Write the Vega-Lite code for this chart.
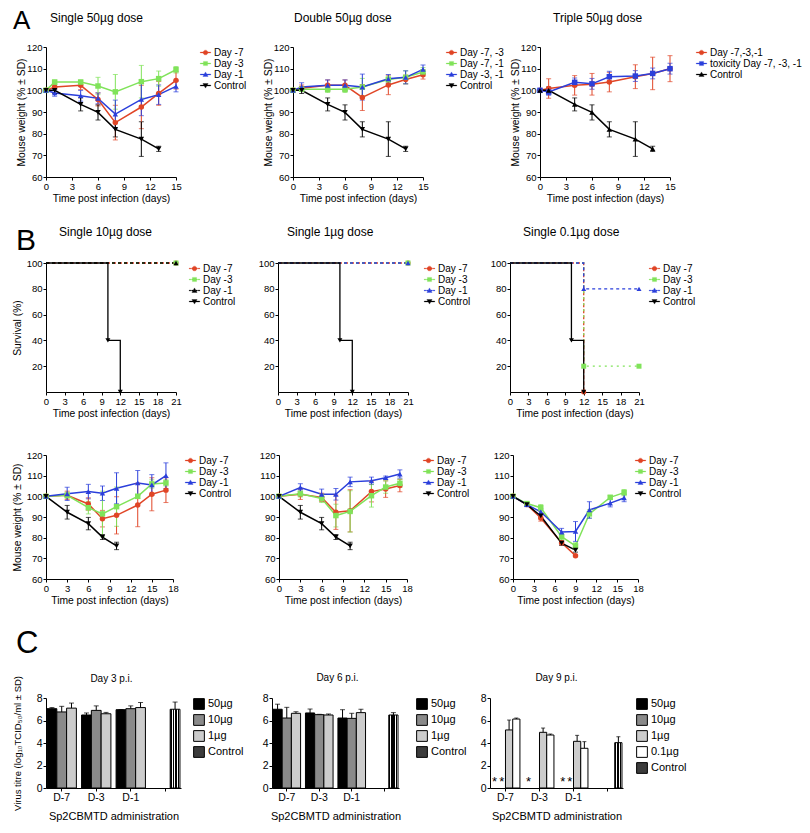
{
"$schema": "https://vega.github.io/schema/vega-lite/v6.json",
"background": "white",
"padding": {"left": 11, "top": 8, "right": 2, "bottom": 5},
"config": {
 "font": "Liberation Sans",
 "view": {"stroke": null},
 "axis": {"grid": false, "domainColor": "#000", "tickColor": "#000", "labelColor": "#000", "titleColor": "#000", "labelFontSize": 9.5, "titleFontSize": 10.3, "titleFontWeight": "normal", "tickSize": 3, "labelPadding": 1, "labelOverlap": false, "labelFlush": false, "labelBound": false, "titlePadding": 3},
 "axisX": {"labelAngle": 0},
 "legend": {"labelFontSize": 10, "rowPadding": 0, "labelOffset": 3, "padding": 0, "symbolSize": 110, "labelColor": "#000", "labelLimit": 300},
 "title": {"fontSize": 12, "fontWeight": "normal", "color": "#000", "anchor": "start", "frame": "group"}
},
"datasets": {
 "a1": [
  {"s":"Day -7","day":0,"w":100,"sd":0},{"s":"Day -7","day":1,"w":101.5,"sd":1},{"s":"Day -7","day":4,"w":102.3,"sd":2},{"s":"Day -7","day":6,"w":95.8,"sd":3},{"s":"Day -7","day":8,"w":85.1,"sd":8},{"s":"Day -7","day":11,"w":92.3,"sd":10},{"s":"Day -7","day":13,"w":98.6,"sd":5.5},{"s":"Day -7","day":15,"w":104.6,"sd":4},
  {"s":"Day -3","day":0,"w":100,"sd":0},{"s":"Day -3","day":1,"w":103.8,"sd":1},{"s":"Day -3","day":4,"w":103.8,"sd":1},{"s":"Day -3","day":6,"w":102,"sd":4},{"s":"Day -3","day":8,"w":99.3,"sd":8},{"s":"Day -3","day":11,"w":104,"sd":7.5},{"s":"Day -3","day":13,"w":105.4,"sd":3.5},{"s":"Day -3","day":15,"w":109.5,"sd":1.5},
  {"s":"Day -1","day":0,"w":100,"sd":0.5},{"s":"Day -1","day":1,"w":98.8,"sd":1.5},{"s":"Day -1","day":4,"w":97.5,"sd":2.5},{"s":"Day -1","day":6,"w":96.3,"sd":2.5},{"s":"Day -1","day":8,"w":89,"sd":6.5},{"s":"Day -1","day":11,"w":95.8,"sd":7.5},{"s":"Day -1","day":13,"w":98,"sd":4.5},{"s":"Day -1","day":15,"w":101.8,"sd":2.5},
  {"s":"Control","day":0,"w":100,"sd":0},{"s":"Control","day":1,"w":100,"sd":1.5},{"s":"Control","day":4,"w":93.5,"sd":3},{"s":"Control","day":6,"w":89.8,"sd":3.5},{"s":"Control","day":8,"w":82,"sd":3.5},{"s":"Control","day":11,"w":77.5,"sd":8},{"s":"Control","day":13,"w":73,"sd":1.2}
 ],
 "a2": [
  {"s":"Day -7, -3","day":0,"w":100,"sd":0},{"s":"Day -7, -3","day":1,"w":101,"sd":1.5},{"s":"Day -7, -3","day":4,"w":102.3,"sd":2.5},{"s":"Day -7, -3","day":6,"w":102.3,"sd":2.5},{"s":"Day -7, -3","day":8,"w":96.7,"sd":6},{"s":"Day -7, -3","day":11,"w":102.5,"sd":4.5},{"s":"Day -7, -3","day":13,"w":105,"sd":2},{"s":"Day -7, -3","day":15,"w":107.2,"sd":2},
  {"s":"Day -7, -1","day":0,"w":100,"sd":0},{"s":"Day -7, -1","day":1,"w":100.5,"sd":1},{"s":"Day -7, -1","day":4,"w":100.5,"sd":1.5},{"s":"Day -7, -1","day":6,"w":100.5,"sd":1.5},{"s":"Day -7, -1","day":8,"w":101.5,"sd":4},{"s":"Day -7, -1","day":11,"w":105,"sd":1.5},{"s":"Day -7, -1","day":13,"w":106,"sd":3},{"s":"Day -7, -1","day":15,"w":108.5,"sd":2},
  {"s":"Day -3, -1","day":0,"w":100,"sd":0.5},{"s":"Day -3, -1","day":1,"w":101.5,"sd":2},{"s":"Day -3, -1","day":4,"w":102.3,"sd":2.5},{"s":"Day -3, -1","day":6,"w":102.3,"sd":2.5},{"s":"Day -3, -1","day":8,"w":101.5,"sd":6},{"s":"Day -3, -1","day":11,"w":105.3,"sd":2},{"s":"Day -3, -1","day":13,"w":106,"sd":3},{"s":"Day -3, -1","day":15,"w":109.7,"sd":2},
  {"s":"Control","day":0,"w":100,"sd":0},{"s":"Control","day":1,"w":100,"sd":1.5},{"s":"Control","day":4,"w":93.5,"sd":3},{"s":"Control","day":6,"w":89.8,"sd":3.5},{"s":"Control","day":8,"w":82,"sd":3.5},{"s":"Control","day":11,"w":77.5,"sd":8},{"s":"Control","day":13,"w":73,"sd":1.2}
 ],
 "a3": [
  {"s":"Day -7,-3,-1","day":0,"w":100,"sd":0},{"s":"Day -7,-3,-1","day":1,"w":100.8,"sd":4.5},{"s":"Day -7,-3,-1","day":4,"w":102.3,"sd":4.5},{"s":"Day -7,-3,-1","day":6,"w":102.8,"sd":5},{"s":"Day -7,-3,-1","day":8,"w":103.8,"sd":4.5},{"s":"Day -7,-3,-1","day":11,"w":106.3,"sd":5.5},{"s":"Day -7,-3,-1","day":13,"w":107.8,"sd":7.5},{"s":"Day -7,-3,-1","day":15,"w":110,"sd":6},
  {"s":"toxicity Day -7, -3, -1","day":0,"w":100,"sd":0},{"s":"toxicity Day -7, -3, -1","day":1,"w":99.2,"sd":1.5},{"s":"toxicity Day -7, -3, -1","day":4,"w":103.7,"sd":2},{"s":"toxicity Day -7, -3, -1","day":6,"w":103,"sd":2.5},{"s":"toxicity Day -7, -3, -1","day":8,"w":106.3,"sd":2.5},{"s":"toxicity Day -7, -3, -1","day":11,"w":106.6,"sd":2.5},{"s":"toxicity Day -7, -3, -1","day":13,"w":107.8,"sd":2.5},{"s":"toxicity Day -7, -3, -1","day":15,"w":110,"sd":2.5},
  {"s":"Control","day":0,"w":100,"sd":0},{"s":"Control","day":1,"w":100,"sd":1.5},{"s":"Control","day":4,"w":93.5,"sd":3},{"s":"Control","day":6,"w":89.8,"sd":3.5},{"s":"Control","day":8,"w":82,"sd":3.5},{"s":"Control","day":11,"w":77.5,"sd":8},{"s":"Control","day":13,"w":73,"sd":1.2}
 ],
 "s1": [
  {"s":"Day -7","day":0,"p":100},{"s":"Day -7","day":21,"p":100},
  {"s":"Day -3","day":0,"p":100},{"s":"Day -3","day":21,"p":100},
  {"s":"Day -1","day":0,"p":100},{"s":"Day -1","day":21,"p":100},
  {"s":"Control","day":0,"p":100},{"s":"Control","day":10,"p":40},{"s":"Control","day":12,"p":0}
 ],
 "s2": [
  {"s":"Day -7","day":0,"p":100},{"s":"Day -7","day":21,"p":100},
  {"s":"Day -3","day":0,"p":100},{"s":"Day -3","day":21,"p":100},
  {"s":"Day -1","day":0,"p":100},{"s":"Day -1","day":21,"p":100},
  {"s":"Control","day":0,"p":100},{"s":"Control","day":10,"p":40},{"s":"Control","day":12,"p":0}
 ],
 "s3": [
  {"s":"Day -7","day":0,"p":100},{"s":"Day -7","day":12,"p":0},
  {"s":"Day -3","day":0,"p":100},{"s":"Day -3","day":12,"p":20},{"s":"Day -3","day":21,"p":20},
  {"s":"Day -1","day":0,"p":100},{"s":"Day -1","day":12,"p":80},{"s":"Day -1","day":21,"p":80},
  {"s":"Control","day":0,"p":100},{"s":"Control","day":10,"p":40},{"s":"Control","day":12,"p":0}
 ],
 "w1": [
  {"s":"Day -7","day":0,"w":100,"sd":0},{"s":"Day -7","day":3,"w":100.5,"sd":2},{"s":"Day -7","day":6,"w":96.3,"sd":3},{"s":"Day -7","day":8,"w":89.2,"sd":4},{"s":"Day -7","day":10,"w":90.8,"sd":9},{"s":"Day -7","day":13,"w":95.8,"sd":10.5},{"s":"Day -7","day":15,"w":101,"sd":8},{"s":"Day -7","day":17,"w":103,"sd":6},
  {"s":"Day -3","day":0,"w":100,"sd":0},{"s":"Day -3","day":3,"w":100.5,"sd":1.5},{"s":"Day -3","day":6,"w":94.5,"sd":3},{"s":"Day -3","day":8,"w":91.5,"sd":11},{"s":"Day -3","day":10,"w":95,"sd":9.5},{"s":"Day -3","day":13,"w":100,"sd":1},{"s":"Day -3","day":15,"w":106,"sd":2},{"s":"Day -3","day":17,"w":106.5,"sd":1.5},
  {"s":"Day -1","day":0,"w":100,"sd":0},{"s":"Day -1","day":3,"w":101.2,"sd":3.2},{"s":"Day -1","day":6,"w":102.3,"sd":3.5},{"s":"Day -1","day":8,"w":101.5,"sd":3.5},{"s":"Day -1","day":10,"w":103.9,"sd":7.5},{"s":"Day -1","day":13,"w":106.5,"sd":6},{"s":"Day -1","day":15,"w":105.5,"sd":5},{"s":"Day -1","day":17,"w":110,"sd":6.2},
  {"s":"Control","day":0,"w":100,"sd":0},{"s":"Control","day":3,"w":92.3,"sd":3.3},{"s":"Control","day":6,"w":86.8,"sd":3},{"s":"Control","day":8,"w":80.3,"sd":1.2},{"s":"Control","day":10,"w":76,"sd":1.8}
 ],
 "w2": [
  {"s":"Day -7","day":0,"w":100,"sd":0},{"s":"Day -7","day":3,"w":101,"sd":2.5},{"s":"Day -7","day":6,"w":99.5,"sd":2},{"s":"Day -7","day":8,"w":92.3,"sd":8.3},{"s":"Day -7","day":10,"w":93,"sd":10.2},{"s":"Day -7","day":13,"w":102.3,"sd":5},{"s":"Day -7","day":15,"w":103.5,"sd":4},{"s":"Day -7","day":17,"w":105.2,"sd":3},
  {"s":"Day -3","day":0,"w":100,"sd":0},{"s":"Day -3","day":3,"w":101.2,"sd":1.5},{"s":"Day -3","day":6,"w":99,"sd":2},{"s":"Day -3","day":8,"w":90.7,"sd":5.5},{"s":"Day -3","day":10,"w":92.7,"sd":10},{"s":"Day -3","day":13,"w":100.3,"sd":5.5},{"s":"Day -3","day":15,"w":104.5,"sd":3},{"s":"Day -3","day":17,"w":106.3,"sd":2},
  {"s":"Day -1","day":0,"w":100,"sd":0},{"s":"Day -1","day":3,"w":104.3,"sd":1.8},{"s":"Day -1","day":6,"w":101,"sd":2.5},{"s":"Day -1","day":8,"w":101,"sd":2.8},{"s":"Day -1","day":10,"w":107,"sd":2.3},{"s":"Day -1","day":13,"w":107.5,"sd":1.8},{"s":"Day -1","day":15,"w":109,"sd":0.8},{"s":"Day -1","day":17,"w":110.8,"sd":2},
  {"s":"Control","day":0,"w":100,"sd":0},{"s":"Control","day":3,"w":92.3,"sd":3.3},{"s":"Control","day":6,"w":86.8,"sd":3},{"s":"Control","day":8,"w":80.3,"sd":1.2},{"s":"Control","day":10,"w":76,"sd":1.8}
 ],
 "w3": [
  {"s":"Day -7","day":0,"w":100,"sd":0},{"s":"Day -7","day":2,"w":96,"sd":0.5},{"s":"Day -7","day":4,"w":89.5,"sd":1.5},{"s":"Day -7","day":7,"w":77.5,"sd":1},{"s":"Day -7","day":9,"w":71.3,"sd":0.5},
  {"s":"Day -3","day":0,"w":100,"sd":0},{"s":"Day -3","day":2,"w":96.5,"sd":1},{"s":"Day -3","day":4,"w":94.5,"sd":1.5},{"s":"Day -3","day":7,"w":80.5,"sd":1.5},{"s":"Day -3","day":9,"w":76,"sd":1.5},{"s":"Day -3","day":11,"w":91.5,"sd":2},{"s":"Day -3","day":14,"w":99.5,"sd":1},{"s":"Day -3","day":16,"w":101.8,"sd":1.5},
  {"s":"Day -1","day":0,"w":100,"sd":0},{"s":"Day -1","day":2,"w":96,"sd":1},{"s":"Day -1","day":4,"w":92.5,"sd":1.5},{"s":"Day -1","day":7,"w":82.7,"sd":1.8},{"s":"Day -1","day":9,"w":83,"sd":4.8},{"s":"Day -1","day":11,"w":93.4,"sd":4},{"s":"Day -1","day":14,"w":96.7,"sd":1.8},{"s":"Day -1","day":16,"w":99.2,"sd":1.8},
  {"s":"Control","day":0,"w":100,"sd":0},{"s":"Control","day":2,"w":96,"sd":0.5},{"s":"Control","day":4,"w":90.5,"sd":1},{"s":"Control","day":7,"w":77.3,"sd":1},{"s":"Control","day":9,"w":74,"sd":1}
 ],
 "c1": [
  {"g":"D-7","dose":"50µg","v":7.05,"hi":7.15},{"g":"D-7","dose":"10µg","v":6.76,"hi":7.26},{"g":"D-7","dose":"1µg","v":7.1,"hi":7.55},
  {"g":"D-3","dose":"50µg","v":6.49,"hi":6.67},{"g":"D-3","dose":"10µg","v":6.9,"hi":7.3},{"g":"D-3","dose":"1µg","v":6.6,"hi":6.72},
  {"g":"D-1","dose":"50µg","v":6.96,"hi":6.98},{"g":"D-1","dose":"10µg","v":7.05,"hi":7.3},{"g":"D-1","dose":"1µg","v":7.15,"hi":7.6},
  {"g":"Control","dose":"Control","v":7.0,"hi":7.64}
 ],
 "c2": [
  {"g":"D-7","dose":"50µg","v":7.0,"hi":7.45},{"g":"D-7","dose":"10µg","v":6.22,"hi":7.17},{"g":"D-7","dose":"1µg","v":6.64,"hi":6.78},
  {"g":"D-3","dose":"50µg","v":6.67,"hi":7.02},{"g":"D-3","dose":"10µg","v":6.52,"hi":6.55},{"g":"D-3","dose":"1µg","v":6.49,"hi":6.58},
  {"g":"D-1","dose":"50µg","v":6.22,"hi":6.96},{"g":"D-1","dose":"10µg","v":6.19,"hi":6.64},{"g":"D-1","dose":"1µg","v":6.7,"hi":7.0},
  {"g":"Control","dose":"Control","v":6.49,"hi":6.7}
 ],
 "c3": [
  {"g":"D-7","dose":"50µg","v":0,"hi":0,"nd":true},{"g":"D-7","dose":"10µg","v":0,"hi":0,"nd":true},
  {"g":"D-7","dose":"1µg","v":5.16,"hi":6.04,"nd":false},{"g":"D-7","dose":"0.1µg","v":6.13,"hi":6.22,"nd":false},
  {"g":"D-3","dose":"50µg","v":0,"hi":0,"nd":true},
  {"g":"D-3","dose":"1µg","v":4.95,"hi":5.33,"nd":false},{"g":"D-3","dose":"0.1µg","v":4.71,"hi":4.8,"nd":false},
  {"g":"D-1","dose":"50µg","v":0,"hi":0,"nd":true},{"g":"D-1","dose":"10µg","v":0,"hi":0,"nd":true},
  {"g":"D-1","dose":"1µg","v":4.15,"hi":4.68,"nd":false},{"g":"D-1","dose":"0.1µg","v":3.53,"hi":4.12,"nd":false},
  {"g":"Control","dose":"Control","v":4.03,"hi":4.56,"nd":false}
 ]
},
"concat": [
 {
  "title": {"text": "A", "fontSize": 26, "anchor": "start", "frame": "bounds", "offset": 0, "dy": 22, "dx": -3},
  "bounds": "flush",
  "spacing": 117,
  "resolve": {"scale": {"color": "independent", "shape": "independent"}, "legend": {"color": "independent", "shape": "independent"}},
  "hconcat": [
   {
    "width": 130, "height": 130,
    "title": {"text": "Single 50µg dose", "dx": 4, "offset": 17},
    "data": {"name": "a1"},
    "encoding": {
     "x": {"field": "day", "type": "quantitative", "scale": {"domain": [0, 15], "nice": false}, "axis": {"values": [0,3,6,9,12,15], "title": "Time post infection (days)"}},
     "y": {"field": "w", "type": "quantitative", "scale": {"domain": [60, 120], "nice": false, "zero": false}, "axis": {"values": [60,70,80,90,100,110,120], "title": "Mouse weight (% ± SD)", "titleX": -20}},
     "color": {"field": "s", "type": "nominal", "scale": {"domain": ["Day -7","Day -3","Day -1","Control"], "range": ["#e04526","#80e35a","#2b3fdb","#000000"]},
      "legend": {"title": null, "orient": "right", "offset": 21, "encode": {"symbols": {"update": {
       "shape": {"signal": "datum.value=='Day -7' ? 'M-1,-0.08H1V0.08H-1ZM-0.45,0A0.45,0.45 0 1,1 0.45,0A0.45,0.45 0 1,1 -0.45,0Z' : datum.value=='Day -3' ? 'M-1,-0.08H1V0.08H-1ZM-0.4,-0.4H0.4V0.4H-0.4Z' : datum.value=='Day -1' ? 'M-1,-0.08H1V0.08H-1ZM0,-0.5L0.5,0.38H-0.5Z' : 'M-1,-0.08H1V0.08H-1ZM0,0.5L-0.5,-0.38H0.5Z'"},
       "strokeWidth": {"value": 0.3}}}}}}
    },
    "layer": [
     {"mark": {"type": "line", "strokeWidth": 1.5}, "encoding": {}},
     {"mark": {"type": "errorbar", "ticks": true}, "encoding": {"yError": {"field": "sd"}}},
     {"mark": {"type": "point", "filled": true, "size": 30, "opacity": 1}, "encoding": {"shape": {"field": "s", "type": "nominal", "scale": {"domain": ["Control","Day -1","Day -3","Day -7"], "range": ["triangle-down","triangle-up","square","circle"]}, "legend": null}}}
    ]
   },
   {
    "width": 130, "height": 130,
    "title": {"text": "Double 50µg dose", "dx": 1, "offset": 17},
    "data": {"name": "a2"},
    "encoding": {
     "x": {"field": "day", "type": "quantitative", "scale": {"domain": [0, 15], "nice": false}, "axis": {"values": [0,3,6,9,12,15], "title": "Time post infection (days)"}},
     "y": {"field": "w", "type": "quantitative", "scale": {"domain": [60, 120], "nice": false, "zero": false}, "axis": {"values": [60,70,80,90,100,110,120], "title": "Mouse weight (% ± SD)", "titleX": -20}},
     "color": {"field": "s", "type": "nominal", "scale": {"domain": ["Day -7, -3","Day -7, -1","Day -3, -1","Control"], "range": ["#e04526","#80e35a","#2b3fdb","#000000"]},
      "legend": {"title": null, "orient": "right", "offset": 20, "encode": {"symbols": {"update": {
       "shape": {"signal": "datum.value=='Day -7, -3' ? 'M-1,-0.08H1V0.08H-1ZM-0.45,0A0.45,0.45 0 1,1 0.45,0A0.45,0.45 0 1,1 -0.45,0Z' : datum.value=='Day -7, -1' ? 'M-1,-0.08H1V0.08H-1ZM-0.4,-0.4H0.4V0.4H-0.4Z' : datum.value=='Day -3, -1' ? 'M-1,-0.08H1V0.08H-1ZM0,-0.5L0.5,0.38H-0.5Z' : 'M-1,-0.08H1V0.08H-1ZM0,0.5L-0.5,-0.38H0.5Z'"},
       "strokeWidth": {"value": 0.3}}}}}}
    },
    "layer": [
     {"mark": {"type": "line", "strokeWidth": 1.5}, "encoding": {}},
     {"mark": {"type": "errorbar", "ticks": true}, "encoding": {"yError": {"field": "sd"}}},
     {"mark": {"type": "point", "filled": true, "size": 30, "opacity": 1}, "encoding": {"shape": {"field": "s", "type": "nominal", "scale": {"domain": ["Control","Day -3, -1","Day -7, -1","Day -7, -3"], "range": ["triangle-down","triangle-up","square","circle"]}, "legend": null}}}
    ]
   },
   {
    "width": 130, "height": 130,
    "title": {"text": "Triple 50µg dose", "dx": 13, "offset": 17},
    "data": {"name": "a3"},
    "encoding": {
     "x": {"field": "day", "type": "quantitative", "scale": {"domain": [0, 15], "nice": false}, "axis": {"values": [0,3,6,9,12,15], "title": "Time post infection (days)"}},
     "y": {"field": "w", "type": "quantitative", "scale": {"domain": [60, 120], "nice": false, "zero": false}, "axis": {"values": [60,70,80,90,100,110,120], "title": "Mouse weight (% ± SD)", "titleX": -20}},
     "color": {"field": "s", "type": "nominal", "scale": {"domain": ["Day -7,-3,-1","toxicity Day -7, -3, -1","Control"], "range": ["#e04526","#2b3fdb","#000000"]},
      "legend": {"title": null, "orient": "right", "offset": 23, "encode": {"symbols": {"update": {
       "shape": {"signal": "datum.value=='Day -7,-3,-1' ? 'M-1,-0.08H1V0.08H-1ZM-0.45,0A0.45,0.45 0 1,1 0.45,0A0.45,0.45 0 1,1 -0.45,0Z' : datum.value=='Control' ? 'M-1,-0.08H1V0.08H-1ZM0,-0.5L0.5,0.38H-0.5Z' : 'M-1,-0.08H1V0.08H-1ZM-0.4,-0.4H0.4V0.4H-0.4Z'"},
       "strokeWidth": {"value": 0.3}}}}}}
    },
    "layer": [
     {"mark": {"type": "line", "strokeWidth": 1.5}, "encoding": {}},
     {"mark": {"type": "errorbar", "ticks": true}, "encoding": {"yError": {"field": "sd"}}},
     {"mark": {"type": "point", "filled": true, "size": 30, "opacity": 1}, "encoding": {"shape": {"field": "s", "type": "nominal", "scale": {"domain": ["Control","toxicity Day -7, -3, -1","Day -7,-3,-1"], "range": ["triangle-up","square","circle"]}, "legend": null}}}
    ]
   }
  ]
 },
 {
  "title": {"text": "B", "fontSize": 30, "anchor": "start", "frame": "bounds", "offset": 0, "dy": 30, "dx": 4},
  "bounds": "flush",
  "spacing": 102,
  "resolve": {"scale": {"color": "independent", "shape": "independent", "strokeDash": "independent"}, "legend": {"color": "independent", "shape": "independent", "strokeDash": "independent"}},
  "hconcat": [
   {
    "width": 130, "height": 129,
    "title": {"text": "Single 10µg dose", "dx": 13, "offset": 19},
    "data": {"name": "s1"},
    "encoding": {
     "x": {"field": "day", "type": "quantitative", "scale": {"domain": [0, 21], "nice": false}, "axis": {"values": [0,3,6,9,12,15,18,21], "title": "Time post infection (days)"}},
     "y": {"field": "p", "type": "quantitative", "scale": {"domain": [0, 100], "nice": false}, "axis": {"values": [20,40,60,80,100], "title": "Survival (%)", "titleX": -24}},
     "color": {"field": "s", "type": "nominal", "scale": {"domain": ["Day -7","Day -3","Day -1","Control"], "range": ["#e04526","#80e35a","#000000","#000000"]},
      "legend": {"title": null, "orient": "right", "offset": 10, "encode": {"symbols": {"update": {
       "shape": {"signal": "datum.value=='Day -7' ? 'M-1,-0.08H-0.72V0.08H-1ZM-0.56,-0.08H-0.3V0.08H-0.56ZM0.3,-0.08H0.56V0.08H0.3ZM0.72,-0.08H1V0.08H0.72ZM-0.45,0A0.45,0.45 0 1,1 0.45,0A0.45,0.45 0 1,1 -0.45,0Z' : datum.value=='Day -3' ? 'M-1,-0.08H-0.72V0.08H-1ZM-0.56,-0.08H-0.3V0.08H-0.56ZM0.3,-0.08H0.56V0.08H0.3ZM0.72,-0.08H1V0.08H0.72ZM-0.4,-0.4H0.4V0.4H-0.4Z' : datum.value=='Day -1' ? 'M-1,-0.08H-0.72V0.08H-1ZM-0.56,-0.08H-0.3V0.08H-0.56ZM0.3,-0.08H0.56V0.08H0.3ZM0.72,-0.08H1V0.08H0.72ZM0,-0.5L0.5,0.38H-0.5Z' : 'M-1,-0.08H1V0.08H-1ZM0,0.5L-0.5,-0.38H0.5Z'"},
       "strokeWidth": {"value": 0.3}, "strokeDash": {"value": []}}}}}}
    },
    "layer": [
     {"mark": {"type": "line", "interpolate": "step-after", "strokeWidth": 1.3}, "encoding": {"strokeDash": {"field": "s", "type": "nominal", "scale": {"domain": ["Control","Day -1","Day -3","Day -7"], "range": [[1,0],[3,3],[2,4],[4,2]]}, "legend": null}}},
     {"transform": [{"filter": "datum.day > 0"}], "mark": {"type": "point", "filled": true, "size": 25, "opacity": 1}, "encoding": {"shape": {"field": "s", "type": "nominal", "scale": {"domain": ["Control","Day -1","Day -3","Day -7"], "range": ["triangle-down","triangle-up","square","circle"]}, "legend": null}}}
    ]
   },
   {
    "width": 130, "height": 129,
    "title": {"text": "Single 1µg dose", "dx": 9, "offset": 19},
    "data": {"name": "s2"},
    "encoding": {
     "x": {"field": "day", "type": "quantitative", "scale": {"domain": [0, 21], "nice": false}, "axis": {"values": [0,3,6,9,12,15,18,21], "title": "Time post infection (days)"}},
     "y": {"field": "p", "type": "quantitative", "scale": {"domain": [0, 100], "nice": false}, "axis": {"values": [20,40,60,80,100], "title": null}},
     "color": {"field": "s", "type": "nominal", "scale": {"domain": ["Day -7","Day -3","Day -1","Control"], "range": ["#e04526","#80e35a","#2b3fdb","#000000"]},
      "legend": {"title": null, "orient": "right", "offset": 13, "encode": {"symbols": {"update": {
       "shape": {"signal": "datum.value=='Day -7' ? 'M-1,-0.08H-0.72V0.08H-1ZM-0.56,-0.08H-0.3V0.08H-0.56ZM0.3,-0.08H0.56V0.08H0.3ZM0.72,-0.08H1V0.08H0.72ZM-0.45,0A0.45,0.45 0 1,1 0.45,0A0.45,0.45 0 1,1 -0.45,0Z' : datum.value=='Day -3' ? 'M-1,-0.08H-0.72V0.08H-1ZM-0.56,-0.08H-0.3V0.08H-0.56ZM0.3,-0.08H0.56V0.08H0.3ZM0.72,-0.08H1V0.08H0.72ZM-0.4,-0.4H0.4V0.4H-0.4Z' : datum.value=='Day -1' ? 'M-1,-0.08H-0.72V0.08H-1ZM-0.56,-0.08H-0.3V0.08H-0.56ZM0.3,-0.08H0.56V0.08H0.3ZM0.72,-0.08H1V0.08H0.72ZM0,-0.5L0.5,0.38H-0.5Z' : 'M-1,-0.08H1V0.08H-1ZM0,0.5L-0.5,-0.38H0.5Z'"},
       "strokeWidth": {"value": 0.3}, "strokeDash": {"value": []}}}}}}
    },
    "layer": [
     {"mark": {"type": "line", "interpolate": "step-after", "strokeWidth": 1.3}, "encoding": {"strokeDash": {"field": "s", "type": "nominal", "scale": {"domain": ["Control","Day -1","Day -3","Day -7"], "range": [[1,0],[3,3],[2,4],[4,2]]}, "legend": null}}},
     {"transform": [{"filter": "datum.day > 0"}], "mark": {"type": "point", "filled": true, "size": 25, "opacity": 1}, "encoding": {"shape": {"field": "s", "type": "nominal", "scale": {"domain": ["Control","Day -1","Day -3","Day -7"], "range": ["triangle-down","triangle-up","square","circle"]}, "legend": null}}}
    ]
   },
   {
    "width": 129, "height": 129,
    "title": {"text": "Single 0.1µg dose", "dx": 13, "offset": 19},
    "data": {"name": "s3"},
    "encoding": {
     "x": {"field": "day", "type": "quantitative", "scale": {"domain": [0, 21], "nice": false}, "axis": {"values": [0,3,6,9,12,15,18,21], "title": "Time post infection (days)"}},
     "y": {"field": "p", "type": "quantitative", "scale": {"domain": [0, 100], "nice": false}, "axis": {"values": [20,40,60,80,100], "title": null}},
     "color": {"field": "s", "type": "nominal", "scale": {"domain": ["Day -7","Day -3","Day -1","Control"], "range": ["#e04526","#80e35a","#2b3fdb","#000000"]},
      "legend": {"title": null, "orient": "right", "offset": 7, "encode": {"symbols": {"update": {
       "shape": {"signal": "datum.value=='Day -7' ? 'M-1,-0.08H-0.72V0.08H-1ZM-0.56,-0.08H-0.3V0.08H-0.56ZM0.3,-0.08H0.56V0.08H0.3ZM0.72,-0.08H1V0.08H0.72ZM-0.45,0A0.45,0.45 0 1,1 0.45,0A0.45,0.45 0 1,1 -0.45,0Z' : datum.value=='Day -3' ? 'M-1,-0.08H-0.72V0.08H-1ZM-0.56,-0.08H-0.3V0.08H-0.56ZM0.3,-0.08H0.56V0.08H0.3ZM0.72,-0.08H1V0.08H0.72ZM-0.4,-0.4H0.4V0.4H-0.4Z' : datum.value=='Day -1' ? 'M-1,-0.08H-0.72V0.08H-1ZM-0.56,-0.08H-0.3V0.08H-0.56ZM0.3,-0.08H0.56V0.08H0.3ZM0.72,-0.08H1V0.08H0.72ZM0,-0.5L0.5,0.38H-0.5Z' : 'M-1,-0.08H1V0.08H-1ZM0,0.5L-0.5,-0.38H0.5Z'"},
       "strokeWidth": {"value": 0.3}, "strokeDash": {"value": []}}}}}}
    },
    "layer": [
     {"mark": {"type": "line", "interpolate": "step-after", "strokeWidth": 1.3}, "encoding": {"strokeDash": {"field": "s", "type": "nominal", "scale": {"domain": ["Control","Day -1","Day -3","Day -7"], "range": [[1,0],[3,3],[2,4],[4,2]]}, "legend": null}}},
     {"transform": [{"filter": "datum.day > 0"}], "mark": {"type": "point", "filled": true, "size": 25, "opacity": 1}, "encoding": {"shape": {"field": "s", "type": "nominal", "scale": {"domain": ["Control","Day -1","Day -3","Day -7"], "range": ["triangle-down","triangle-up","square","circle"]}, "legend": null}}}
    ]
   }
  ]
 },
 {
  "title": {"text": " ", "fontSize": 9, "offset": 0},
  "bounds": "flush",
  "spacing": 106,
  "resolve": {"scale": {"color": "independent", "shape": "independent"}, "legend": {"color": "independent", "shape": "independent"}},
  "hconcat": [
   {
    "width": 127, "height": 124,
    "data": {"name": "w1"},
    "encoding": {
     "x": {"field": "day", "type": "quantitative", "scale": {"domain": [0, 18], "nice": false}, "axis": {"values": [0,3,6,9,12,15,18], "title": "Time post infection (days)"}},
     "y": {"field": "w", "type": "quantitative", "scale": {"domain": [60, 120], "nice": false, "zero": false}, "axis": {"values": [60,70,80,90,100,110,120], "title": "Mouse weight (% ± SD)", "titleX": -24}},
     "color": {"field": "s", "type": "nominal", "scale": {"domain": ["Day -7","Day -3","Day -1","Control"], "range": ["#e04526","#80e35a","#2b3fdb","#000000"]},
      "legend": {"title": null, "orient": "right", "offset": 12, "encode": {"symbols": {"update": {
       "shape": {"signal": "datum.value=='Day -7' ? 'M-1,-0.08H1V0.08H-1ZM-0.45,0A0.45,0.45 0 1,1 0.45,0A0.45,0.45 0 1,1 -0.45,0Z' : datum.value=='Day -3' ? 'M-1,-0.08H1V0.08H-1ZM-0.4,-0.4H0.4V0.4H-0.4Z' : datum.value=='Day -1' ? 'M-1,-0.08H1V0.08H-1ZM0,-0.5L0.5,0.38H-0.5Z' : 'M-1,-0.08H1V0.08H-1ZM0,0.5L-0.5,-0.38H0.5Z'"},
       "strokeWidth": {"value": 0.3}}}}}}
    },
    "layer": [
     {"mark": {"type": "line", "strokeWidth": 1.5}, "encoding": {}},
     {"mark": {"type": "errorbar", "ticks": true}, "encoding": {"yError": {"field": "sd"}}},
     {"mark": {"type": "point", "filled": true, "size": 30, "opacity": 1}, "encoding": {"shape": {"field": "s", "type": "nominal", "scale": {"domain": ["Control","Day -1","Day -3","Day -7"], "range": ["triangle-down","triangle-up","square","circle"]}, "legend": null}}}
    ]
   },
   {
    "width": 128, "height": 124,
    "data": {"name": "w2"},
    "encoding": {
     "x": {"field": "day", "type": "quantitative", "scale": {"domain": [0, 18], "nice": false}, "axis": {"values": [0,3,6,9,12,15,18], "title": "Time post infection (days)"}},
     "y": {"field": "w", "type": "quantitative", "scale": {"domain": [60, 120], "nice": false, "zero": false}, "axis": {"values": [60,70,80,90,100,110,120], "title": null}},
     "color": {"field": "s", "type": "nominal", "scale": {"domain": ["Day -7","Day -3","Day -1","Control"], "range": ["#e04526","#80e35a","#2b3fdb","#000000"]},
      "legend": {"title": null, "orient": "right", "offset": 16, "encode": {"symbols": {"update": {
       "shape": {"signal": "datum.value=='Day -7' ? 'M-1,-0.08H1V0.08H-1ZM-0.45,0A0.45,0.45 0 1,1 0.45,0A0.45,0.45 0 1,1 -0.45,0Z' : datum.value=='Day -3' ? 'M-1,-0.08H1V0.08H-1ZM-0.4,-0.4H0.4V0.4H-0.4Z' : datum.value=='Day -1' ? 'M-1,-0.08H1V0.08H-1ZM0,-0.5L0.5,0.38H-0.5Z' : 'M-1,-0.08H1V0.08H-1ZM0,0.5L-0.5,-0.38H0.5Z'"},
       "strokeWidth": {"value": 0.3}}}}}}
    },
    "layer": [
     {"mark": {"type": "line", "strokeWidth": 1.5}, "encoding": {}},
     {"mark": {"type": "errorbar", "ticks": true}, "encoding": {"yError": {"field": "sd"}}},
     {"mark": {"type": "point", "filled": true, "size": 30, "opacity": 1}, "encoding": {"shape": {"field": "s", "type": "nominal", "scale": {"domain": ["Control","Day -1","Day -3","Day -7"], "range": ["triangle-down","triangle-up","square","circle"]}, "legend": null}}}
    ]
   },
   {
    "width": 125, "height": 124,
    "data": {"name": "w3"},
    "encoding": {
     "x": {"field": "day", "type": "quantitative", "scale": {"domain": [0, 18], "nice": false}, "axis": {"values": [0,3,6,9,12,15,18], "title": "Time post infection (days)"}},
     "y": {"field": "w", "type": "quantitative", "scale": {"domain": [60, 120], "nice": false, "zero": false}, "axis": {"values": [60,70,80,90,100,110,120], "title": null}},
     "color": {"field": "s", "type": "nominal", "scale": {"domain": ["Day -7","Day -3","Day -1","Control"], "range": ["#e04526","#80e35a","#2b3fdb","#000000"]},
      "legend": {"title": null, "orient": "right", "offset": -3, "encode": {"symbols": {"update": {
       "shape": {"signal": "datum.value=='Day -7' ? 'M-1,-0.08H1V0.08H-1ZM-0.45,0A0.45,0.45 0 1,1 0.45,0A0.45,0.45 0 1,1 -0.45,0Z' : datum.value=='Day -3' ? 'M-1,-0.08H1V0.08H-1ZM-0.4,-0.4H0.4V0.4H-0.4Z' : datum.value=='Day -1' ? 'M-1,-0.08H1V0.08H-1ZM0,-0.5L0.5,0.38H-0.5Z' : 'M-1,-0.08H1V0.08H-1ZM0,0.5L-0.5,-0.38H0.5Z'"},
       "strokeWidth": {"value": 0.3}}}}}}
    },
    "layer": [
     {"mark": {"type": "line", "strokeWidth": 1.5}, "encoding": {}},
     {"mark": {"type": "errorbar", "ticks": true}, "encoding": {"yError": {"field": "sd"}}},
     {"mark": {"type": "point", "filled": true, "size": 30, "opacity": 1}, "encoding": {"shape": {"field": "s", "type": "nominal", "scale": {"domain": ["Control","Day -1","Day -3","Day -7"], "range": ["triangle-down","triangle-up","square","circle"]}, "legend": null}}}
    ]
   }
  ]
 },
 {
  "title": {"text": "C", "fontSize": 31, "anchor": "start", "frame": "bounds", "offset": 0, "dy": -13, "dx": 4},
  "bounds": "flush",
  "spacing": 91,
  "resolve": {"scale": {"fill": "independent", "xOffset": "independent"}, "legend": {"fill": "independent"}},
  "hconcat": [
   {
    "width": 135, "height": 90,
    "title": {"text": "Day 3 p.i.", "anchor": "middle", "fontSize": 10, "offset": -9, "dx": -2},
    "data": {"name": "c1"},
    "encoding": {
     "x": {"field": "g", "type": "nominal", "sort": null, "scale": {"domain": ["D-7","D-3","D-1","Control"], "paddingInner": 0.15, "paddingOuter": 0.03}, "axis": {"title": "Sp2CBMTD administration", "labelExpr": "datum.value == 'Control' ? '' : datum.label", "labelFontSize": 10.5, "titleFontSize": 11, "titlePadding": 8}},
     "y": {"field": "v", "type": "quantitative", "scale": {"domain": [0, 8], "nice": false}, "axis": {"values": [0,2,4,6,8], "title": "Virus titre (log₁₀TCID₅₀/ml ± SD)", "titleX": -24, "titleFontSize": 9.5, "labelFontSize": 10.5}}
    },
    "layer": [
     {"transform": [{"filter": "datum.g != 'Control'"}], "mark": {"type": "rule", "color": "#000"}, "encoding": {"xOffset": {"field": "dose", "type": "nominal", "scale": {"domain": ["50µg","10µg","1µg"], "paddingInner": 0, "paddingOuter": 0}}, "y2": {"field": "hi"}}},
     {"transform": [{"filter": "datum.g != 'Control'"}], "mark": {"type": "tick", "color": "#000", "size": 5, "thickness": 1}, "encoding": {"xOffset": {"field": "dose", "type": "nominal"}, "y": {"field": "hi", "type": "quantitative", "title": "Virus titre (log₁₀TCID₅₀/ml ± SD)"}}},
     {"transform": [{"filter": "datum.g != 'Control'"}], "mark": {"type": "bar", "stroke": "#000", "strokeWidth": 1}, "encoding": {"xOffset": {"field": "dose", "type": "nominal"},
       "fill": {"field": "dose", "type": "nominal", "scale": {"domain": ["50µg","10µg","1µg","Control"], "range": ["#000000","#8a8a8a","#cccccc","#3c3c3c"]},
        "legend": {"title": null, "orient": "right", "offset": 12, "symbolType": "square", "symbolSize": 115, "symbolStrokeColor": "#000", "symbolStrokeWidth": 1, "labelFontSize": 11}}}},
     {"transform": [{"filter": "datum.g == 'Control'"}], "mark": {"type": "rule", "color": "#000"}, "encoding": {"xOffset": {"datum": "1µg"}, "y2": {"field": "hi"}}},
     {"transform": [{"filter": "datum.g == 'Control'"}], "mark": {"type": "tick", "color": "#000", "size": 5, "thickness": 1}, "encoding": {"xOffset": {"datum": "1µg"}, "y": {"field": "hi", "type": "quantitative", "title": "Virus titre (log₁₀TCID₅₀/ml ± SD)"}}},
     {"transform": [{"filter": "datum.g == 'Control'"}], "mark": {"type": "bar", "stroke": "#000", "strokeWidth": 1, "fill": {"gradient": "linear", "x1": 0, "y1": 0, "x2": 1, "y2": 0, "stops": [{"offset":0,"color":"#000"},{"offset":0.15,"color":"#000"},{"offset":0.15,"color":"#fff"},{"offset":0.25,"color":"#fff"},{"offset":0.25,"color":"#000"},{"offset":0.4,"color":"#000"},{"offset":0.4,"color":"#fff"},{"offset":0.5,"color":"#fff"},{"offset":0.5,"color":"#000"},{"offset":0.65,"color":"#000"},{"offset":0.65,"color":"#fff"},{"offset":0.75,"color":"#fff"},{"offset":0.75,"color":"#000"},{"offset":0.9,"color":"#000"},{"offset":0.9,"color":"#fff"},{"offset":1,"color":"#fff"}]}}, "encoding": {"xOffset": {"datum": "1µg"}}}
    ]
   },
   {
    "width": 127, "height": 90,
    "title": {"text": "Day 6 p.i.", "anchor": "middle", "fontSize": 10, "offset": 10, "dx": 2},
    "data": {"name": "c2"},
    "encoding": {
     "x": {"field": "g", "type": "nominal", "sort": null, "scale": {"domain": ["D-7","D-3","D-1","Control"], "paddingInner": 0.15, "paddingOuter": 0.03}, "axis": {"title": "Sp2CBMTD administration", "labelExpr": "datum.value == 'Control' ? '' : datum.label", "labelFontSize": 10.5, "titleFontSize": 11, "titlePadding": 8}},
     "y": {"field": "v", "type": "quantitative", "scale": {"domain": [0, 8], "nice": false}, "axis": {"values": [0,2,4,6,8], "title": null, "labelFontSize": 10.5}}
    },
    "layer": [
     {"transform": [{"filter": "datum.g != 'Control'"}], "mark": {"type": "rule", "color": "#000"}, "encoding": {"xOffset": {"field": "dose", "type": "nominal", "scale": {"domain": ["50µg","10µg","1µg"], "paddingInner": 0, "paddingOuter": 0}}, "y2": {"field": "hi"}}},
     {"transform": [{"filter": "datum.g != 'Control'"}], "mark": {"type": "tick", "color": "#000", "size": 5, "thickness": 1}, "encoding": {"xOffset": {"field": "dose", "type": "nominal"}, "y": {"field": "hi", "type": "quantitative", "title": null}}},
     {"transform": [{"filter": "datum.g != 'Control'"}], "mark": {"type": "bar", "stroke": "#000", "strokeWidth": 1}, "encoding": {"xOffset": {"field": "dose", "type": "nominal"},
       "fill": {"field": "dose", "type": "nominal", "scale": {"domain": ["50µg","10µg","1µg","Control"], "range": ["#000000","#8a8a8a","#cccccc","#3c3c3c"]},
        "legend": {"title": null, "orient": "right", "offset": 17, "symbolType": "square", "symbolSize": 115, "symbolStrokeColor": "#000", "symbolStrokeWidth": 1, "labelFontSize": 11}}}},
     {"transform": [{"filter": "datum.g == 'Control'"}], "mark": {"type": "rule", "color": "#000"}, "encoding": {"xOffset": {"datum": "1µg"}, "y2": {"field": "hi"}}},
     {"transform": [{"filter": "datum.g == 'Control'"}], "mark": {"type": "tick", "color": "#000", "size": 5, "thickness": 1}, "encoding": {"xOffset": {"datum": "1µg"}, "y": {"field": "hi", "type": "quantitative", "title": null}}},
     {"transform": [{"filter": "datum.g == 'Control'"}], "mark": {"type": "bar", "stroke": "#000", "strokeWidth": 1, "fill": {"gradient": "linear", "x1": 0, "y1": 0, "x2": 1, "y2": 0, "stops": [{"offset":0,"color":"#000"},{"offset":0.15,"color":"#000"},{"offset":0.15,"color":"#fff"},{"offset":0.25,"color":"#fff"},{"offset":0.25,"color":"#000"},{"offset":0.4,"color":"#000"},{"offset":0.4,"color":"#fff"},{"offset":0.5,"color":"#fff"},{"offset":0.5,"color":"#000"},{"offset":0.65,"color":"#000"},{"offset":0.65,"color":"#fff"},{"offset":0.75,"color":"#fff"},{"offset":0.75,"color":"#000"},{"offset":0.9,"color":"#000"},{"offset":0.9,"color":"#fff"},{"offset":1,"color":"#fff"}]}}, "encoding": {"xOffset": {"datum": "1µg"}}}
    ]
   },
   {
    "width": 133, "height": 90,
    "title": {"text": "Day 9 p.i.", "anchor": "middle", "fontSize": 10, "offset": 10, "dx": 0},
    "data": {"name": "c3"},
    "encoding": {
     "x": {"field": "g", "type": "nominal", "sort": null, "scale": {"domain": ["D-7","D-3","D-1","Control"], "paddingInner": 0.15, "paddingOuter": 0.03}, "axis": {"title": "Sp2CBMTD administration", "labelExpr": "datum.value == 'Control' ? '' : datum.label", "labelFontSize": 10.5, "titleFontSize": 11, "titlePadding": 8}},
     "y": {"field": "v", "type": "quantitative", "scale": {"domain": [0, 8], "nice": false}, "axis": {"values": [0,2,4,6,8], "title": null, "labelFontSize": 10.5}}
    },
    "layer": [
     {"transform": [{"filter": "datum.g != 'Control' && !datum.nd"}], "mark": {"type": "rule", "color": "#000"}, "encoding": {"xOffset": {"field": "dose", "type": "nominal", "scale": {"domain": ["50µg","10µg","1µg","0.1µg"], "paddingInner": 0, "paddingOuter": 0}}, "y2": {"field": "hi"}}},
     {"transform": [{"filter": "datum.g != 'Control' && !datum.nd"}], "mark": {"type": "tick", "color": "#000", "size": 4, "thickness": 1}, "encoding": {"xOffset": {"field": "dose", "type": "nominal"}, "y": {"field": "hi", "type": "quantitative", "title": null}}},
     {"transform": [{"filter": "datum.g != 'Control' && !datum.nd"}], "mark": {"type": "bar", "stroke": "#000", "strokeWidth": 1}, "encoding": {"xOffset": {"field": "dose", "type": "nominal"},
       "fill": {"field": "dose", "type": "nominal", "scale": {"domain": ["50µg","10µg","1µg","0.1µg","Control"], "range": ["#000000","#8a8a8a","#cccccc","#ffffff","#3c3c3c"]},
        "legend": {"title": null, "orient": "right", "offset": 13, "symbolType": "square", "symbolSize": 115, "symbolStrokeColor": "#000", "symbolStrokeWidth": 1, "labelFontSize": 11}}}},
     {"transform": [{"filter": "datum.g == 'Control'"}], "mark": {"type": "rule", "color": "#000"}, "encoding": {"xOffset": {"datum": "0.1µg"}, "y2": {"field": "hi"}}},
     {"transform": [{"filter": "datum.g == 'Control'"}], "mark": {"type": "tick", "color": "#000", "size": 4, "thickness": 1}, "encoding": {"xOffset": {"datum": "0.1µg"}, "y": {"field": "hi", "type": "quantitative", "title": null}}},
     {"transform": [{"filter": "datum.g == 'Control'"}], "mark": {"type": "bar", "stroke": "#000", "strokeWidth": 1, "fill": {"gradient": "linear", "x1": 0, "y1": 0, "x2": 1, "y2": 0, "stops": [{"offset":0,"color":"#000"},{"offset":0.15,"color":"#000"},{"offset":0.15,"color":"#fff"},{"offset":0.25,"color":"#fff"},{"offset":0.25,"color":"#000"},{"offset":0.4,"color":"#000"},{"offset":0.4,"color":"#fff"},{"offset":0.5,"color":"#fff"},{"offset":0.5,"color":"#000"},{"offset":0.65,"color":"#000"},{"offset":0.65,"color":"#fff"},{"offset":0.75,"color":"#fff"},{"offset":0.75,"color":"#000"},{"offset":0.9,"color":"#000"},{"offset":0.9,"color":"#fff"},{"offset":1,"color":"#fff"}]}}, "encoding": {"xOffset": {"datum": "0.1µg"}}},
     {"transform": [{"filter": "datum.nd"}], "mark": {"type": "text", "text": "*", "fontSize": 13, "color": "#000", "baseline": "middle", "dy": -6}, "encoding": {"xOffset": {"field": "dose", "type": "nominal"}}}
    ]
   }
  ]
 }
],
"columns": 1,
"align": "none",
"spacing": 22,
"bounds": "full",
"resolve": {"scale": {"color": "independent", "shape": "independent", "strokeDash": "independent", "fill": "independent", "xOffset": "independent"}, "legend": {"color": "independent", "shape": "independent", "strokeDash": "independent", "fill": "independent"}}
}
